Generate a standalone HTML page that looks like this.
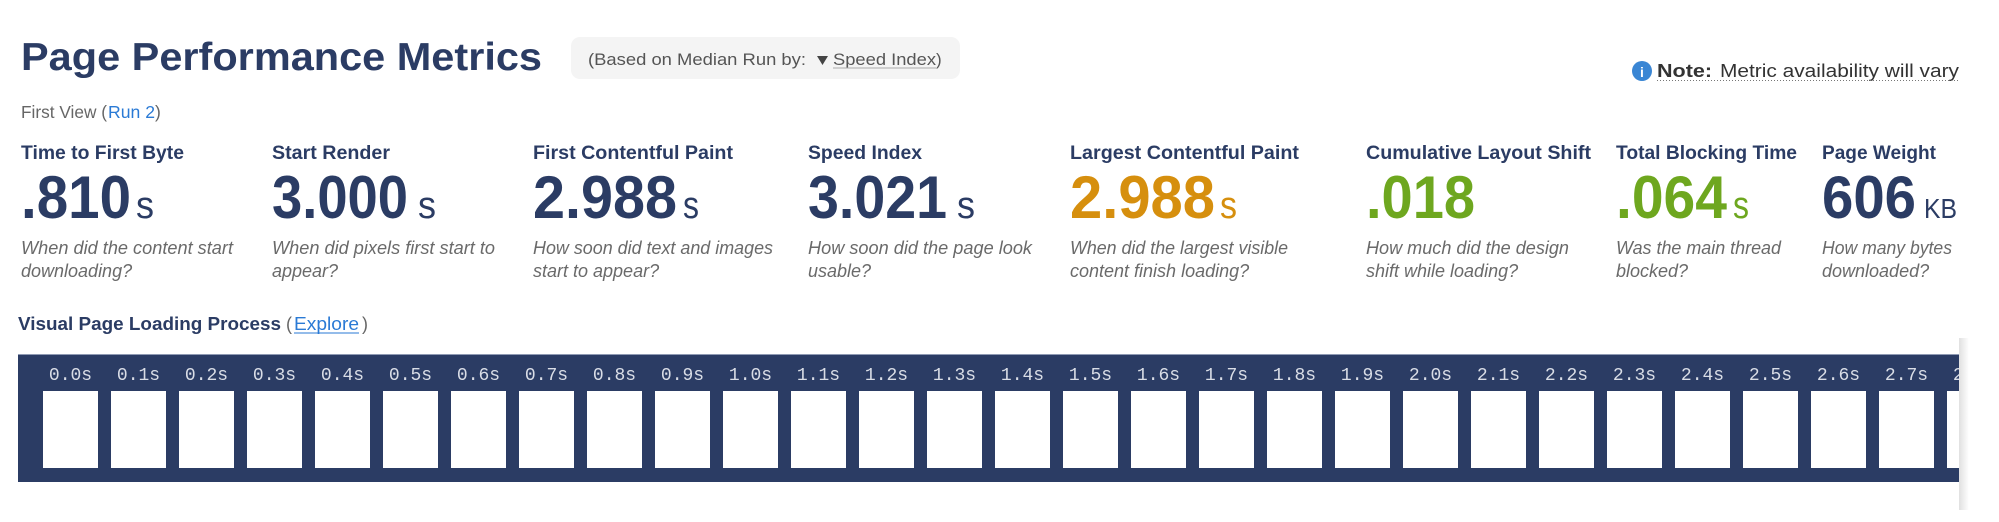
<!DOCTYPE html>
<html>
<head>
<meta charset="utf-8">
<style>
html,body{margin:0;padding:0;background:#fff;}
svg{display:block;}
text{font-family:"Liberation Sans",Arial,sans-serif;}
.lbl{font-weight:bold;font-size:19px;fill:#2b3c64;}
.val{font-weight:bold;font-size:60px;}
.unit{font-size:38px;}
.desc{font-style:italic;font-size:18px;fill:#6a6a6a;}
.fr{font-family:"Liberation Mono",monospace;font-size:18px;fill:#d9dde6;}
</style>
</head>
<body>
<svg width="1999" height="522" viewBox="0 0 1999 522" xmlns="http://www.w3.org/2000/svg">
  <defs>
    <clipPath id="bandclip"><rect x="18" y="354" width="1941" height="128"/></clipPath>
    <linearGradient id="shadow" x1="0" x2="1" y1="0" y2="0">
      <stop offset="0" stop-color="#e0e0e0"/>
      <stop offset="1" stop-color="#ffffff"/>
    </linearGradient>
  </defs>

  <!-- Title -->
  <text x="21" y="70" font-size="39" font-weight="bold" fill="#2b3c64" textLength="521" lengthAdjust="spacingAndGlyphs">Page Performance Metrics</text>

  <!-- Pill -->
  <rect x="571" y="37" width="389" height="42" rx="9" ry="9" fill="#f4f4f4"/>
  <text x="588" y="65" font-size="17" fill="#555" textLength="218" lengthAdjust="spacingAndGlyphs">(Based on Median Run by:</text>
  <polygon points="817,56 828,56 822.5,65" fill="#444"/>
  <text x="833" y="65" font-size="17" fill="#555" textLength="103" lengthAdjust="spacingAndGlyphs">Speed Index</text>
  <line x1="833" y1="68" x2="936" y2="68" stroke="#aaa" stroke-width="1"/>
  <text x="936" y="65" font-size="17" fill="#555">)</text>

  <!-- Note -->
  <circle cx="1642" cy="71" r="10" fill="#3a86d4"/>
  <text x="1642" y="77" font-size="14" font-weight="bold" fill="#fff" text-anchor="middle">i</text>
  <text x="1657" y="77" font-size="18" font-weight="bold" fill="#333" textLength="55" lengthAdjust="spacingAndGlyphs">Note:</text>
  <text x="1720" y="77" font-size="18" fill="#333" textLength="239" lengthAdjust="spacingAndGlyphs">Metric availability will vary</text>
  <line x1="1657" y1="80.5" x2="1959" y2="80.5" stroke="#777" stroke-width="1" stroke-dasharray="1,2"/>

  <!-- First View -->
  <text x="21" y="118" font-size="17.5" fill="#666" textLength="86" lengthAdjust="spacingAndGlyphs">First View (</text>
  <text x="108" y="118" font-size="17.5" fill="#2a7ad5" textLength="47" lengthAdjust="spacingAndGlyphs">Run 2</text>
  <text x="155" y="118" font-size="17.5" fill="#666">)</text>

  <!-- Metric labels -->
  <text class="lbl" x="21" y="159" textLength="163" lengthAdjust="spacingAndGlyphs">Time to First Byte</text>
  <text class="lbl" x="272" y="159" textLength="118" lengthAdjust="spacingAndGlyphs">Start Render</text>
  <text class="lbl" x="533" y="159" textLength="200" lengthAdjust="spacingAndGlyphs">First Contentful Paint</text>
  <text class="lbl" x="808" y="159" textLength="114" lengthAdjust="spacingAndGlyphs">Speed Index</text>
  <text class="lbl" x="1070" y="159" textLength="229" lengthAdjust="spacingAndGlyphs">Largest Contentful Paint</text>
  <text class="lbl" x="1366" y="159" textLength="225" lengthAdjust="spacingAndGlyphs">Cumulative Layout Shift</text>
  <text class="lbl" x="1616" y="159" textLength="181" lengthAdjust="spacingAndGlyphs">Total Blocking Time</text>
  <text class="lbl" x="1822" y="159" textLength="114" lengthAdjust="spacingAndGlyphs">Page Weight</text>

  <!-- Values -->
  <text class="val" x="21" y="218" fill="#2b3c64" textLength="110" lengthAdjust="spacingAndGlyphs">.810</text>
  <text class="unit" x="136" y="218" fill="#2b3c64" textLength="18" lengthAdjust="spacingAndGlyphs">s</text>

  <text class="val" x="272" y="218" fill="#2b3c64" textLength="136" lengthAdjust="spacingAndGlyphs">3.000</text>
  <text class="unit" x="418" y="218" fill="#2b3c64" textLength="18" lengthAdjust="spacingAndGlyphs">s</text>

  <text class="val" x="533" y="218" fill="#2b3c64" textLength="144" lengthAdjust="spacingAndGlyphs">2.988</text>
  <text class="unit" x="683" y="218" fill="#2b3c64" textLength="16" lengthAdjust="spacingAndGlyphs">s</text>

  <text class="val" x="808" y="218" fill="#2b3c64" textLength="139" lengthAdjust="spacingAndGlyphs">3.021</text>
  <text class="unit" x="957" y="218" fill="#2b3c64" textLength="18" lengthAdjust="spacingAndGlyphs">s</text>

  <text class="val" x="1070" y="218" fill="#d68f0e" textLength="145" lengthAdjust="spacingAndGlyphs">2.988</text>
  <text class="unit" x="1220" y="218" fill="#d68f0e" textLength="17" lengthAdjust="spacingAndGlyphs">s</text>

  <text class="val" x="1366" y="218" fill="#6ea71f" textLength="109" lengthAdjust="spacingAndGlyphs">.018</text>

  <text class="val" x="1616" y="218" fill="#6ea71f" textLength="111" lengthAdjust="spacingAndGlyphs">.064</text>
  <text class="unit" x="1733" y="218" fill="#6ea71f" textLength="16" lengthAdjust="spacingAndGlyphs">s</text>

  <text class="val" x="1822" y="218" fill="#2b3c64" textLength="94" lengthAdjust="spacingAndGlyphs">606</text>
  <text x="1924" y="218" font-size="28" fill="#2b3c64" textLength="33" lengthAdjust="spacingAndGlyphs">KB</text>

  <!-- Descriptions -->
  <text class="desc" x="21" y="254" textLength="212" lengthAdjust="spacingAndGlyphs">When did the content start</text>
  <text class="desc" x="21" y="277">downloading?</text>

  <text class="desc" x="272" y="254" textLength="223" lengthAdjust="spacingAndGlyphs">When did pixels first start to</text>
  <text class="desc" x="272" y="277">appear?</text>

  <text class="desc" x="533" y="254" textLength="240" lengthAdjust="spacingAndGlyphs">How soon did text and images</text>
  <text class="desc" x="533" y="277">start to appear?</text>

  <text class="desc" x="808" y="254" textLength="224" lengthAdjust="spacingAndGlyphs">How soon did the page look</text>
  <text class="desc" x="808" y="277">usable?</text>

  <text class="desc" x="1070" y="254" textLength="218" lengthAdjust="spacingAndGlyphs">When did the largest visible</text>
  <text class="desc" x="1070" y="277">content finish loading?</text>

  <text class="desc" x="1366" y="254" textLength="203" lengthAdjust="spacingAndGlyphs">How much did the design</text>
  <text class="desc" x="1366" y="277">shift while loading?</text>

  <text class="desc" x="1616" y="254" textLength="165" lengthAdjust="spacingAndGlyphs">Was the main thread</text>
  <text class="desc" x="1616" y="277">blocked?</text>

  <text class="desc" x="1822" y="254" textLength="130" lengthAdjust="spacingAndGlyphs">How many bytes</text>
  <text class="desc" x="1822" y="277">downloaded?</text>

  <!-- Visual Page Loading Process -->
  <text x="18" y="330" font-size="18" font-weight="bold" fill="#2b3c64" textLength="263" lengthAdjust="spacingAndGlyphs">Visual Page Loading Process</text>
  <text x="286" y="330" font-size="18" fill="#666">(</text>
  <text x="294" y="330" font-size="18" fill="#2a7ad5" textLength="65" lengthAdjust="spacingAndGlyphs">Explore</text>
  <line x1="294" y1="333" x2="359" y2="333" stroke="#2a7ad5" stroke-width="1"/>
  <text x="362" y="330" font-size="18" fill="#666">)</text>

  <!-- Right shadow -->
  <rect x="1959" y="338" width="10" height="172" fill="url(#shadow)"/>

  <!-- Band -->
  <rect x="18" y="354" width="1941" height="128" fill="#2b3c64"/>
  <line x1="18" y1="354.5" x2="1959" y2="354.5" stroke="#8f9ab3" stroke-width="1"/>
  <g clip-path="url(#bandclip)">
    <g id="frames">
      <rect x="43" y="391" width="55" height="77" fill="#fff"/><text class="fr" x="70.5" y="380" text-anchor="middle">0.0s</text>
      <rect x="111" y="391" width="55" height="77" fill="#fff"/><text class="fr" x="138.5" y="380" text-anchor="middle">0.1s</text>
      <rect x="179" y="391" width="55" height="77" fill="#fff"/><text class="fr" x="206.5" y="380" text-anchor="middle">0.2s</text>
      <rect x="247" y="391" width="55" height="77" fill="#fff"/><text class="fr" x="274.5" y="380" text-anchor="middle">0.3s</text>
      <rect x="315" y="391" width="55" height="77" fill="#fff"/><text class="fr" x="342.5" y="380" text-anchor="middle">0.4s</text>
      <rect x="383" y="391" width="55" height="77" fill="#fff"/><text class="fr" x="410.5" y="380" text-anchor="middle">0.5s</text>
      <rect x="451" y="391" width="55" height="77" fill="#fff"/><text class="fr" x="478.5" y="380" text-anchor="middle">0.6s</text>
      <rect x="519" y="391" width="55" height="77" fill="#fff"/><text class="fr" x="546.5" y="380" text-anchor="middle">0.7s</text>
      <rect x="587" y="391" width="55" height="77" fill="#fff"/><text class="fr" x="614.5" y="380" text-anchor="middle">0.8s</text>
      <rect x="655" y="391" width="55" height="77" fill="#fff"/><text class="fr" x="682.5" y="380" text-anchor="middle">0.9s</text>
      <rect x="723" y="391" width="55" height="77" fill="#fff"/><text class="fr" x="750.5" y="380" text-anchor="middle">1.0s</text>
      <rect x="791" y="391" width="55" height="77" fill="#fff"/><text class="fr" x="818.5" y="380" text-anchor="middle">1.1s</text>
      <rect x="859" y="391" width="55" height="77" fill="#fff"/><text class="fr" x="886.5" y="380" text-anchor="middle">1.2s</text>
      <rect x="927" y="391" width="55" height="77" fill="#fff"/><text class="fr" x="954.5" y="380" text-anchor="middle">1.3s</text>
      <rect x="995" y="391" width="55" height="77" fill="#fff"/><text class="fr" x="1022.5" y="380" text-anchor="middle">1.4s</text>
      <rect x="1063" y="391" width="55" height="77" fill="#fff"/><text class="fr" x="1090.5" y="380" text-anchor="middle">1.5s</text>
      <rect x="1131" y="391" width="55" height="77" fill="#fff"/><text class="fr" x="1158.5" y="380" text-anchor="middle">1.6s</text>
      <rect x="1199" y="391" width="55" height="77" fill="#fff"/><text class="fr" x="1226.5" y="380" text-anchor="middle">1.7s</text>
      <rect x="1267" y="391" width="55" height="77" fill="#fff"/><text class="fr" x="1294.5" y="380" text-anchor="middle">1.8s</text>
      <rect x="1335" y="391" width="55" height="77" fill="#fff"/><text class="fr" x="1362.5" y="380" text-anchor="middle">1.9s</text>
      <rect x="1403" y="391" width="55" height="77" fill="#fff"/><text class="fr" x="1430.5" y="380" text-anchor="middle">2.0s</text>
      <rect x="1471" y="391" width="55" height="77" fill="#fff"/><text class="fr" x="1498.5" y="380" text-anchor="middle">2.1s</text>
      <rect x="1539" y="391" width="55" height="77" fill="#fff"/><text class="fr" x="1566.5" y="380" text-anchor="middle">2.2s</text>
      <rect x="1607" y="391" width="55" height="77" fill="#fff"/><text class="fr" x="1634.5" y="380" text-anchor="middle">2.3s</text>
      <rect x="1675" y="391" width="55" height="77" fill="#fff"/><text class="fr" x="1702.5" y="380" text-anchor="middle">2.4s</text>
      <rect x="1743" y="391" width="55" height="77" fill="#fff"/><text class="fr" x="1770.5" y="380" text-anchor="middle">2.5s</text>
      <rect x="1811" y="391" width="55" height="77" fill="#fff"/><text class="fr" x="1838.5" y="380" text-anchor="middle">2.6s</text>
      <rect x="1879" y="391" width="55" height="77" fill="#fff"/><text class="fr" x="1906.5" y="380" text-anchor="middle">2.7s</text>
      <rect x="1947" y="391" width="55" height="77" fill="#fff"/><text class="fr" x="1974.5" y="380" text-anchor="middle">2.8s</text>
    </g>
  </g>
</svg>
</body>
</html>
